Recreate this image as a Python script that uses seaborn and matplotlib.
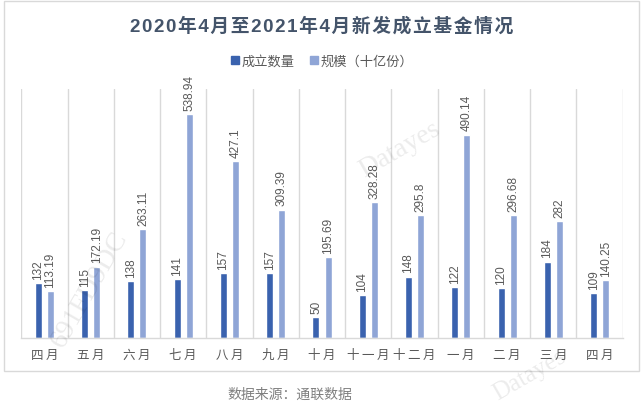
import matplotlib
matplotlib.use("Agg")
import matplotlib.pyplot as plt
import matplotlib.patches as mpatches
import seaborn as sns
import pandas as pd

months = ["四月", "五月", "六月", "七月", "八月", "九月", "十月", "十一月", "十二月", "一月", "二月", "三月", "四月"]
count_vals = [132, 115, 138, 141, 157, 157, 50, 104, 148, 122, 120, 184, 109]
scale_vals = [113.19, 172.19, 263.11, 538.94, 427.1, 309.39, 195.69, 328.28, 295.8, 490.14, 296.68, 282, 140.25]
series_names = ["成立数量", "规模（十亿份）"]
title = "2020年4月至2021年4月新发成立基金情况"
source = "数据来源：通联数据"

sns.set_theme(style="white")
plt.rcParams['font.family'] = ['Liberation Sans', 'Noto Sans CJK SC', 'DejaVu Sans']

HS = "\u200a"
TS = "\u2009"

pos = [f"{i:02d}" for i in range(len(months))]
df = pd.DataFrame({
    "pos": pos * 2,
    "value": count_vals + scale_vals,
    "series": [series_names[0]] * len(months) + [series_names[1]] * len(months),
})

colors = ["#3A62AE", "#8FA5D6"]
W, H = 644, 406
fig = plt.figure(figsize=(W / 100, H / 100), dpi=100)
ax = fig.add_axes([21.3 / W, (H - 339) / H, (622.7 - 21.3) / W, (339 - 90) / H])

sns.barplot(data=df, x="pos", y="value", hue="series", palette=colors,
            width=0.52, gap=0.42, ax=ax, legend=False, saturation=1)

for cont, vals in zip(ax.containers, [count_vals, scale_vals]):
    ax.bar_label(cont, labels=[f"{v:g}" for v in vals], rotation=90, padding=3,
                 fontsize=8.5, color="#595959")

ax.set_xlim(-0.5, len(months) - 0.5)
ax.set_ylim(0, 600)
ax.set_yticks([])
ax.set_xticks(range(len(months)))
ax.set_xticklabels([TS.join(m) for m in months], fontsize=9, color="#595959")
ax.tick_params(axis="x", length=0, pad=8)
ax.set_xlabel("")
ax.set_ylabel("")
for s in ["top", "left", "right"]:
    ax.spines[s].set_visible(False)
ax.spines["bottom"].set_color("#D9D9D9")
ax.spines["bottom"].set_linewidth(1)
for i in range(len(months) + 1):
    ax.axvline(i - 0.5, color="#D9D9D9", lw=1, zorder=0)

fig.text(0.5, (H - 26) / H, HS.join(title), ha="center", va="center", fontsize=13.5,
         fontweight="bold", color="#44546A")

handles = [mpatches.Patch(color=c, label=n) for c, n in zip(colors, series_names)]
fig.legend(handles=handles, loc="center", bbox_to_anchor=(0.5, (H - 62) / H), ncol=2,
           frameon=False, fontsize=9.5, handlelength=0.6, handleheight=0.6,
           handletextpad=0.2, columnspacing=1.2, labelcolor="#595959")

fig.patches.append(mpatches.Rectangle((4 / W, (H - 372) / H), (639 - 4) / W, (372 - 2) / H,
                                      transform=fig.transFigure, fill=False,
                                      edgecolor="#D9D9D9", lw=1))

fig.text(290 / W, (H - 395) / H, source, ha="center", va="center", fontsize=10,
         style="italic", color="#7F7F7F")

# faint watermarks
fig.text(400 / W, (H - 150) / H, "Datayes", rotation=30, fontsize=20, color="#000000",
         alpha=0.08, family="Liberation Serif", ha="center", va="center")
fig.text(90 / W, (H - 290) / H, "691FD9DC", rotation=60, fontsize=20, color="#000000",
         alpha=0.08, family="Liberation Serif", ha="center", va="center")
fig.text(530 / W, (H - 375) / H, "Datayes", rotation=30, fontsize=18, color="#000000",
         alpha=0.08, family="Liberation Serif", ha="center", va="center")

fig.savefig("out.png", dpi=100)
